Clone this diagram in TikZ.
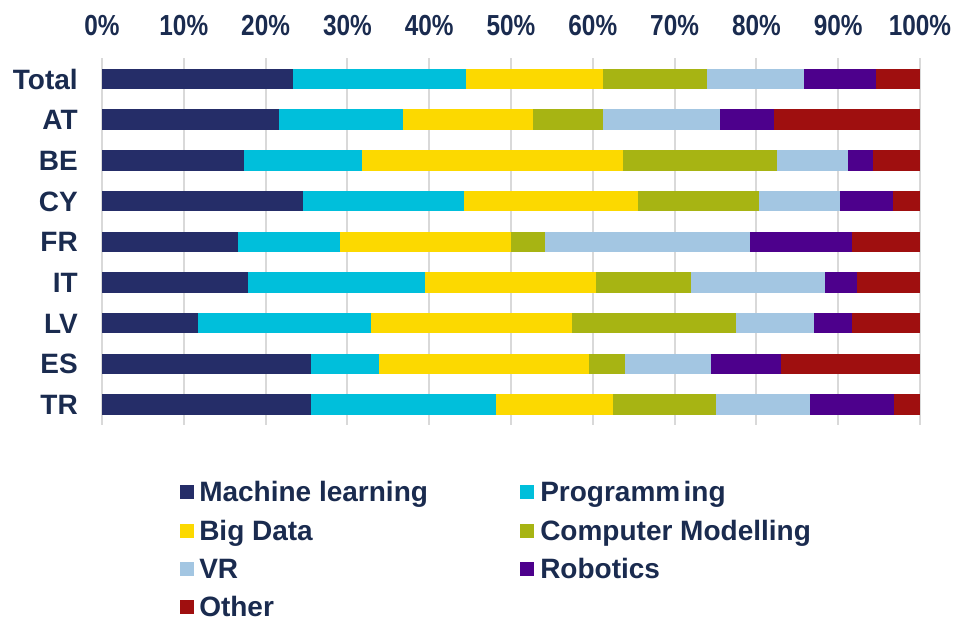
\documentclass[tikz,border=0pt]{standalone}
\usepackage{fontspec}
\setmainfont{Liberation Sans}
\newfontfamily\axisfont[FakeStretch=0.84]{Liberation Sans}
\definecolor{txt}{HTML}{1A2B4F}
\definecolor{cml}{HTML}{252D68}
\definecolor{cpr}{HTML}{00BFDB}
\definecolor{cbd}{HTML}{FCD900}
\definecolor{ccm}{HTML}{A7B413}
\definecolor{cvr}{HTML}{A3C6E2}
\definecolor{crb}{HTML}{4D008C}
\definecolor{cot}{HTML}{9F0F0F}
\definecolor{gridc}{HTML}{D9D9D9}
\tikzset{
  gridline/.style={draw=gridc, line width=1.4pt},
  axislbl/.style={anchor=base, inner sep=0pt, text=txt, font=\axisfont\bfseries\fontsize{21.75}{22}\selectfont},
  rowlbl/.style={anchor=base east, inner sep=0pt, text=txt, font=\bfseries\fontsize{21}{22}\selectfont},
  leglbl/.style={anchor=base west, inner sep=0pt, text=txt, font=\bfseries\fontsize{21}{22}\selectfont},
  legbox/.style={minimum width=10.5pt, minimum height=10.5pt, inner sep=0pt, draw=none}
}
\begin{document}
\begin{tikzpicture}[x=0.75pt,y=-0.75pt]
\useasboundingbox (0,0) rectangle (960,621);
% grid and axis labels
\foreach \i in {0,...,10} {
  \pgfmathsetmacro\gx{102+81.8*\i}
  \pgfmathtruncatemacro\p{10*\i}
  \coordinate (gt\i) at (\gx,58);
  \coordinate (gb\i) at (\gx,425);
  \draw[gridline] (gt\i) -- (gb\i);
  \node[axislbl] (ax\i) at (\gx,35) {\p\%};
}
% bars
\begin{scope}[xshift=76.5pt, x=6.135pt]
\foreach \nm/\r/\a/\b/\c/\d/\e/\f in {
  Total/0/23.4/44.5/61.3/74.0/85.8/94.6,
  AT/1/21.6/36.8/52.7/61.3/75.5/82.1,
  BE/2/17.4/31.8/63.7/82.5/91.2/94.3,
  CY/3/24.6/44.2/65.5/80.3/90.2/96.7,
  FR/4/16.6/29.1/50.0/54.1/79.2/91.7,
  IT/5/17.8/39.5/60.4/72.0/88.4/92.3,
  LV/6/11.7/32.9/57.5/77.5/87.0/91.7,
  ES/7/25.5/33.9/59.5/63.9/74.4/83.0,
  TR/8/25.5/48.2/62.5/75.0/86.6/96.8} {
  \pgfmathsetmacro\yc{79+40.7*\r}
  \pgfmathsetmacro\yt{\yc-10.25}
  \pgfmathsetmacro\yb{\yc+10.25}
  \fill[cml] (0,\yt) rectangle (\a,\yb);
  \fill[cpr] (\a,\yt) rectangle (\b,\yb);
  \fill[cbd] (\b,\yt) rectangle (\c,\yb);
  \fill[ccm] (\c,\yt) rectangle (\d,\yb);
  \fill[cvr] (\d,\yt) rectangle (\e,\yb);
  \fill[crb] (\e,\yt) rectangle (\f,\yb);
  \fill[cot] (\f,\yt) rectangle (100,\yb);
}
\end{scope}
% row labels
\foreach \nm/\r in {Total/0,AT/1,BE/2,CY/3,FR/4,IT/5,LV/6,ES/7,TR/8} {
  \pgfmathsetmacro\yl{79+40.7*\r+10}
  \node[rowlbl] (row\nm) at (78,\yl) {\nm};
}
% legend
\node[legbox, fill=cml] (sqml) at (186.5,492) {};
\node[leglbl] (lgml) at (199,501.5) {Machine learning};
\node[legbox, fill=cpr] (sqpr) at (527,492) {};
\node[leglbl] (lgpr) at (540,501.5) {Programm\kern0.12em ing};
\node[legbox, fill=cbd] (sqbd) at (186.5,530.5) {};
\node[leglbl] (lgbd) at (199,540) {Big Data};
\node[legbox, fill=ccm] (sqcm) at (527,530.5) {};
\node[leglbl] (lgcm) at (540,540) {Computer Modelling};
\node[legbox, fill=cvr] (sqvr) at (186.5,569) {};
\node[leglbl] (lgvr) at (199,578.5) {VR};
\node[legbox, fill=crb] (sqrb) at (527,569) {};
\node[leglbl] (lgrb) at (540,578.5) {Robotics};
\node[legbox, fill=cot] (sqot) at (186.5,607) {};
\node[leglbl] (lgot) at (199,616.5) {Other};
\end{tikzpicture}
\end{document}
